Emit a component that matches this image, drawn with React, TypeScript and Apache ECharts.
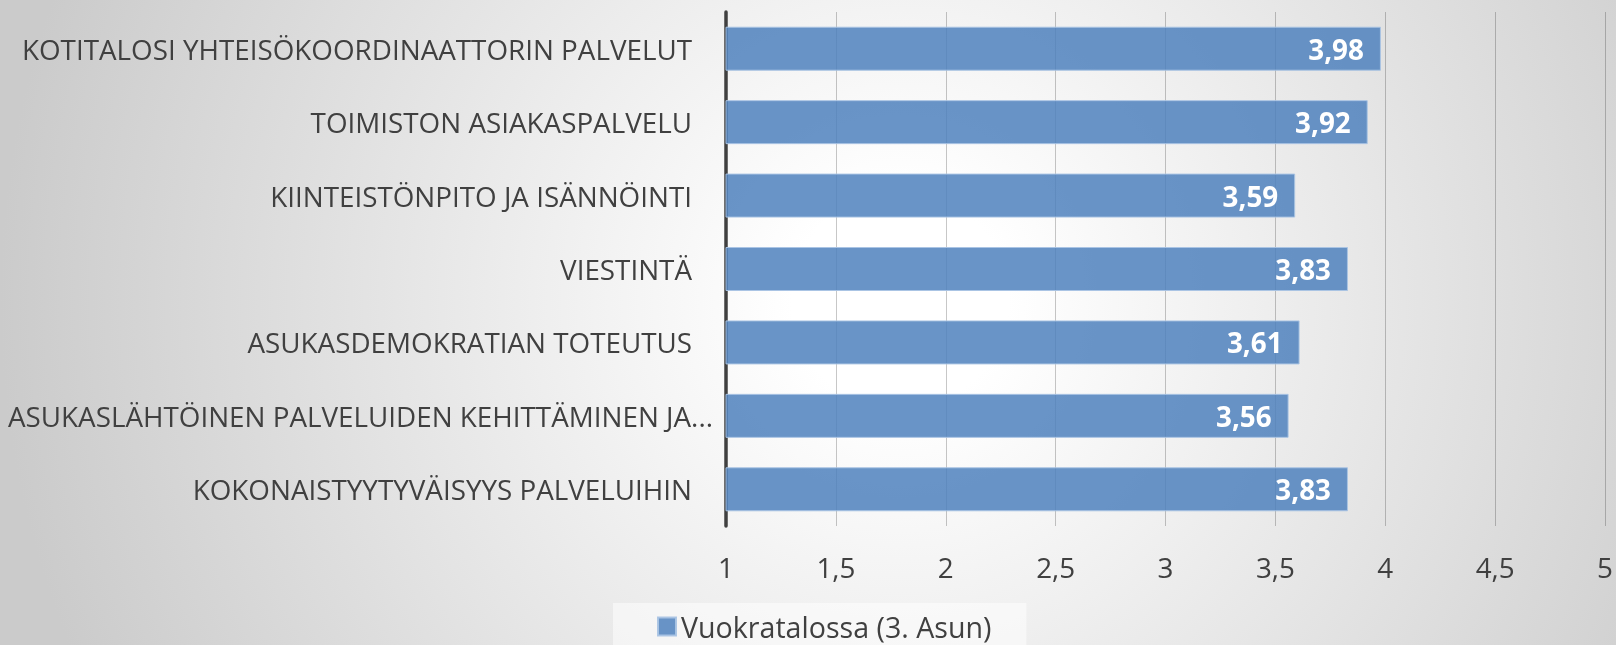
import React, { useEffect, useRef } from "react";
import * as echarts from "echarts";

const categories: string[] = [
  "KOTITALOSI YHTEISÖKOORDINAATTORIN PALVELUT",
  "TOIMISTON ASIAKASPALVELU",
  "KIINTEISTÖNPITO JA ISÄNNÖINTI",
  "VIESTINTÄ",
  "ASUKASDEMOKRATIAN TOTEUTUS",
  "ASUKASLÄHTÖINEN PALVELUIDEN KEHITTÄMINEN JA...",
  "KOKONAISTYYTYVÄISYYS PALVELUIHIN",
];
const seriesName = "Vuokratalossa (3. Asun)";
const values: number[] = [3.98, 3.92, 3.59, 3.83, 3.61, 3.56, 3.83];
const axisMin = 1;
const axisMax = 5;
const axisStep = 0.5;

const FONT = "'Open Sans', sans-serif";
const TXT = "#404040";
const FS = 27.8;

export default function App() {
  const ref = useRef<HTMLDivElement>(null);
  useEffect(() => {
    if (!ref.current) return;
    const chart = echarts.init(ref.current, undefined, { renderer: "svg" });
    chart.setOption({
      animation: false,
      backgroundColor: "transparent",
      textStyle: { fontFamily: FONT },
      grid: { left: 726, right: 10, top: 12, bottom: 119, containLabel: false },
      xAxis: {
        type: "value",
        min: axisMin,
        max: axisMax,
        interval: axisStep,
        axisLine: { show: false },
        axisTick: { show: false },
        splitLine: { show: true, lineStyle: { color: "rgba(0,0,0,0.22)", width: 1 } },
        axisLabel: {
          color: TXT,
          fontSize: FS,
          fontFamily: FONT,
          margin: 27,
          formatter: (v: number) => String(v).replace(".", ","),
        },
      },
      yAxis: {
        type: "category",
        inverse: true,
        data: categories,
        axisLine: { show: true, lineStyle: { color: "#404040", width: 3.5 } },
        axisTick: { show: false },
        splitLine: { show: false },
        axisLabel: {
          margin: 13,
          fontSize: FS,
          color: TXT,
          fontFamily: FONT,
          formatter: (v: string) => (v.endsWith("...") ? `{b|${v}}` : `{a|${v}}`),
          rich: {
            a: { fontSize: FS, color: TXT, fontFamily: FONT, padding: [0, 21, 0, 0] },
            b: { fontSize: FS, color: TXT, fontFamily: FONT },
          },
        },
      },
      legend: {
        show: true,
        left: 613,
        top: 603,
        padding: [9, 35, 12, 44],
        backgroundColor: "rgba(255,255,255,0.5)",
        icon: "rect",
        itemWidth: 18,
        itemHeight: 18,
        textStyle: { color: TXT, fontSize: 28.6, fontFamily: FONT },
        data: [seriesName],
      },
      series: [
        {
          name: seriesName,
          type: "bar",
          data: values,
          barWidth: 44,
          itemStyle: {
            color: "rgba(79,129,189,0.85)",
            borderColor: "rgba(170,196,228,0.95)",
            borderWidth: 1,
          },
          label: {
            show: true,
            position: "insideRight",
            distance: 17,
            color: "#ffffff",
            fontWeight: "bold",
            fontSize: FS,
            fontFamily: FONT,
            formatter: (p: any) => Number(p.value).toFixed(2).replace(".", ","),
          },
        },
      ],
    });
    return () => chart.dispose();
  }, []);
  return (
    <div
      style={{
        position: "fixed",
        left: 0,
        top: 0,
        width: 1616,
        height: 645,
        background:
          "radial-gradient(900px 900px at 900px 300px, #ffffff 0%, #ffffff 12%, #cbcbcb 100%)",
      }}
    >
      <div ref={ref} style={{ width: 1616, height: 645 }} />
    </div>
  );
}
